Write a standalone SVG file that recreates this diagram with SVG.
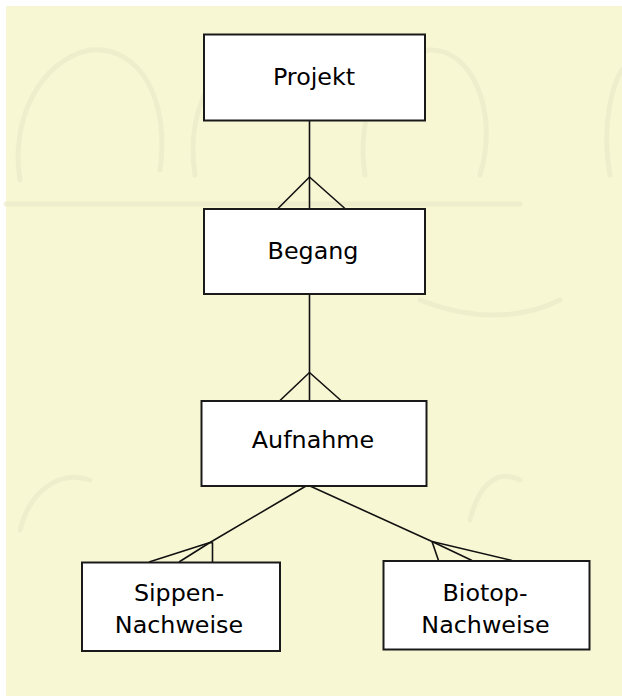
<svg xmlns="http://www.w3.org/2000/svg" width="622" height="696" viewBox="0 0 622 696">
<style>
.bg{fill:#f8f7d4}
.tex{fill:none;stroke:#e9e7c6;stroke-width:5;stroke-linecap:round;opacity:0.6}
.box{fill:#ffffff;stroke:#1a1a1a;stroke-width:2}
.lbl{font-family:"DejaVu Sans","Verdana",sans-serif;font-size:23.8px;fill:#000;text-anchor:middle}
.conn line,.conn polyline{stroke:#111;stroke-width:1.6;fill:none}
</style>
<rect x="0" y="0" width="622" height="696" fill="#ffffff"/>
<rect class="bg" x="6" y="6" width="616" height="690"/>
<g id="texture">
<path class="tex" d="M6 204 L520 204"/>
<path class="tex" d="M20 180 C10 120 40 60 90 50 C140 45 170 100 160 170"/>
<path class="tex" d="M195 175 C185 110 215 55 260 50"/>
<path class="tex" d="M365 175 C355 110 385 55 430 50 C470 48 500 110 480 175"/>
<path class="tex" d="M610 175 C600 120 615 80 622 70"/>
<path class="tex" d="M420 300 C470 320 520 320 560 300"/>
<path class="tex" d="M20 530 C30 490 60 470 90 480"/>
<path class="tex" d="M470 520 C480 480 500 470 520 480"/>
</g>
<g id="connectors" class="conn">
<line x1="309.5" y1="121" x2="309.5" y2="209"/>
<polyline points="277.5,209 309.5,177 345.5,209"/>
<line x1="309.5" y1="294" x2="309.5" y2="401"/>
<polyline points="279.5,401 309.5,372.5 341.5,401"/>
<line x1="306" y1="486" x2="210" y2="542.5"/>
<line x1="210" y1="542.5" x2="149" y2="562"/>
<line x1="210" y1="542.5" x2="179" y2="562"/>
<polyline points="210,542.5 212.5,543 212.5,562"/>
<line x1="310" y1="486" x2="432" y2="541.5"/>
<line x1="432" y1="541.5" x2="438.5" y2="560.5"/>
<line x1="432" y1="541.5" x2="472" y2="560.5"/>
<line x1="432" y1="541.5" x2="512" y2="560.5"/>
</g>
<g id="projekt">
<rect class="box" x="204" y="34.5" width="221" height="86"/>
<text class="lbl" x="314" y="85">Projekt</text>
</g>
<g id="begang">
<rect class="box" x="204" y="209" width="221" height="85"/>
<text class="lbl" x="313" y="258.5">Begang</text>
</g>
<g id="aufnahme">
<rect class="box" x="201.5" y="401" width="225" height="85"/>
<text class="lbl" x="313" y="448">Aufnahme</text>
</g>
<g id="sippen">
<rect class="box" x="82" y="562.5" width="198" height="88.5"/>
<text class="lbl" x="179" y="600.5">Sippen-</text>
<text class="lbl" x="179" y="632.5">Nachweise</text>
</g>
<g id="biotop">
<rect class="box" x="383.5" y="561" width="206" height="88.5"/>
<text class="lbl" x="485" y="600.5">Biotop-</text>
<text class="lbl" x="485.5" y="632.5">Nachweise</text>
</g>
</svg>
